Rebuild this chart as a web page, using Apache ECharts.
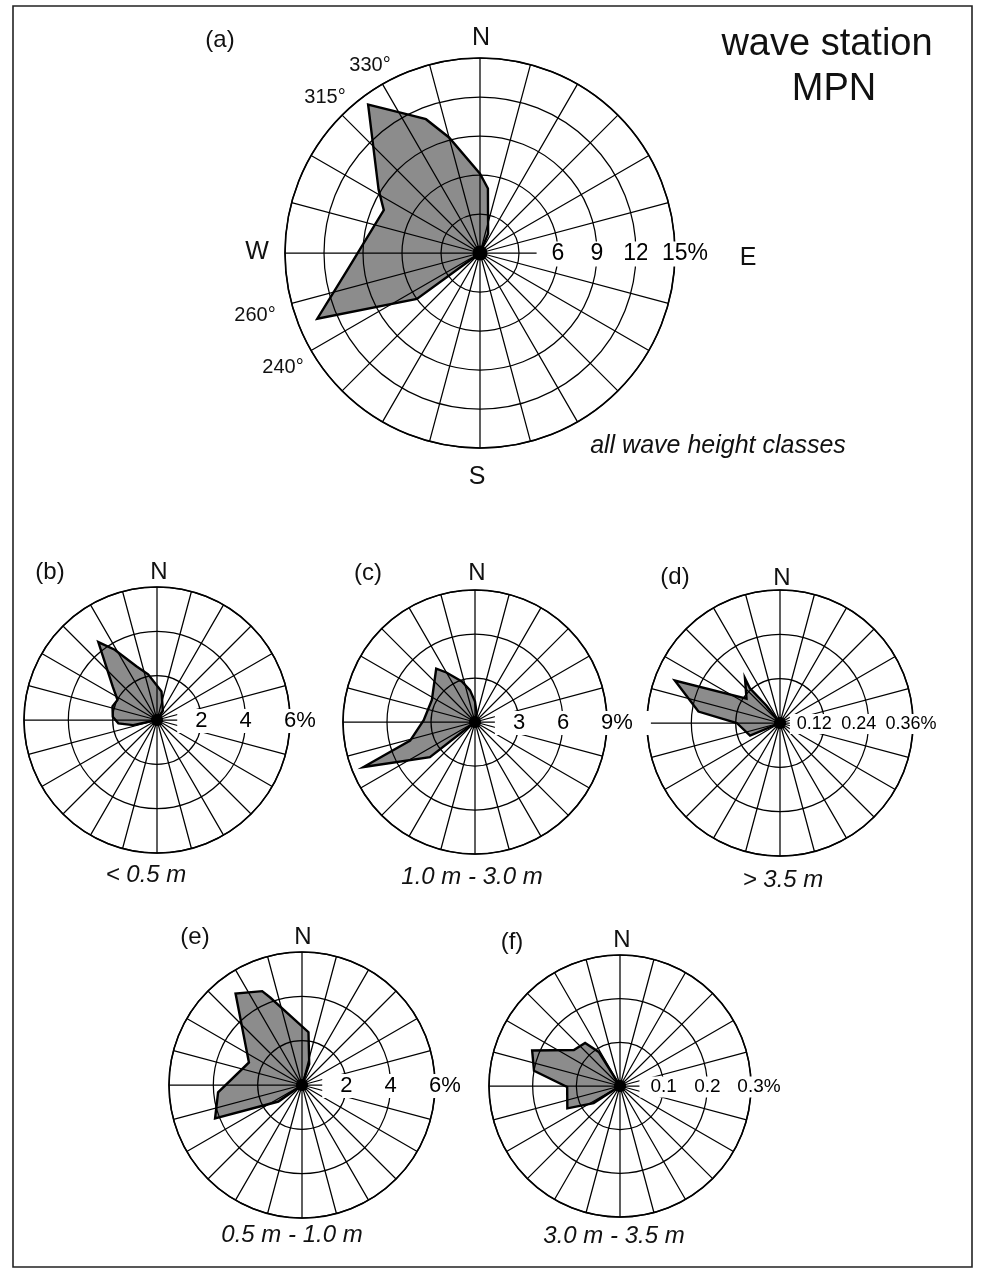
<!DOCTYPE html>
<html>
<head>
<meta charset="utf-8">
<script src="https://cdn.jsdelivr.net/npm/echarts/dist/echarts.min.js"></script>
<style>
  html, body { margin: 0; padding: 0; background: #fff; }
  #chart { width: 983px; height: 1273px; }
</style>
</head>
<body>
<div id="chart"></div>
<script>
// Wave direction roses for station MPN.
// Each rose: direction of the outline vertex (degrees from north, clockwise)
// and its frequency of occurrence (%). The outline starts and ends at the centre.

// (a) all wave height classes
const dirA  = [220, 234, 248, 264, 294, 302, 323, 331, 338, 345, 0, 7, 23, 30];
const freqA = [0, 6.0, 13.5, 10.1, 8.1, 9.2, 14.3, 12.3, 11.1, 9.2, 6.1, 5.0, 1.6, 0];
const ringsA = [6, 9, 12, 15];
const ringTextA = ['6', '9', '12', '15%'];

// (b) < 0.5 m
const dirB  = [250, 258, 265, 274, 287, 297, 307, 323, 329, 339, 349, 9, 32, 40];
const freqB = [0, 1.1, 1.75, 2.0, 2.1, 2.0, 2.5, 4.4, 3.7, 2.6, 2.1, 1.3, 0.5, 0];
const ringsB = [2, 4, 6];
const ringTextB = ['2', '4', '6%'];

// (c) 1.0 m - 3.0 m
const dirC  = [222, 232, 248, 254, 272, 297, 324, 330, 342, 351, 0, 11, 20];
const freqC = [0, 3.9, 8.2, 4.6, 3.5, 3.3, 4.5, 3.9, 2.9, 2.2, 1.4, 0.6, 0];
const ringsC = [3, 6, 9];
const ringTextC = ['3', '6', '9%'];

// (d) > 3.5 m
const dirD  = [240, 247, 270, 278, 292, 306, 322, 319, 322, 340];
const freqD = [0, 0.088, 0.117, 0.223, 0.307, 0.112, 0.154, 0.124, 0.06, 0];
const ringsD = [0.12, 0.24, 0.36];
const ringTextD = ['0.12', '0.24', '0.36%'];

// (e) 0.5 m - 1.0 m
const dirE  = [225, 235, 249, 265, 293, 324, 337, 340, 7, 19, 30];
const freqE = [0, 1.3, 4.2, 3.8, 2.6, 5.1, 4.6, 4.2, 2.4, 1.0, 0];
const ringsE = [2, 4, 6];
const ringTextE = ['2', '4', '6%'];

// (f) 3.0 m - 3.5 m
const dirF  = [228, 237, 247, 269, 280, 292, 308, 321, 328, 335];
const freqF = [0, 0.072, 0.131, 0.121, 0.200, 0.217, 0.134, 0.127, 0.092, 0];
const ringsF = [0.1, 0.2, 0.3];
const ringTextF = ['0.1', '0.2', '0.3%'];

const FONT = '"Liberation Sans", Arial, Helvetica, sans-serif';
const INK = '#000';
const FILL = '#8c8c8c';

// layout of each rose on the page
const roses = [
  { dir: dirA, freq: freqA, rings: ringsA, text: ringTextA, max: 15,   step: 3,    center: [480, 253],  radius: 195, fs: 23, dx: 0,   padX: 15, dot: 15, pct: 10 },
  { dir: dirB, freq: freqB, rings: ringsB, text: ringTextB, max: 6,    step: 2,    center: [157, 720],  radius: 133, fs: 22, dx: 0,   padX: 18, dot: 12, pct: 10 },
  { dir: dirC, freq: freqC, rings: ringsC, text: ringTextC, max: 9,    step: 3,    center: [475, 722],  radius: 132, fs: 22, dx: 0,   padX: 18, dot: 12, pct: 10 },
  { dir: dirD, freq: freqD, rings: ringsD, text: ringTextD, max: 0.36, step: 0.12, center: [780, 723],  radius: 133, fs: 18, dx: -10, padX: 7,  dot: 12, pct: 8 },
  { dir: dirE, freq: freqE, rings: ringsE, text: ringTextE, max: 6,    step: 2,    center: [302, 1085], radius: 133, fs: 22, dx: 0,   padX: 18, dot: 12, pct: 10 },
  { dir: dirF, freq: freqF, rings: ringsF, text: ringTextF, max: 0.3,  step: 0.1,  center: [620, 1086], radius: 131, fs: 19, dx: 0,   padX: 11, dot: 12, pct: 8 }
];

const polar = [], angleAxis = [], radiusAxis = [], series = [];

roses.forEach((p, i) => {
  polar.push({ center: p.center, radius: p.radius });
  angleAxis.push({
    polarIndex: i, type: 'value', min: 0, max: 360, interval: 15,
    startAngle: 90, clockwise: true, z: 3,
    axisLine: { show: true, lineStyle: { color: INK, width: 1.6 } },
    axisTick: { show: false }, axisLabel: { show: false },
    splitLine: { show: true, lineStyle: { color: INK, width: 1.25 } }
  });
  radiusAxis.push({
    polarIndex: i, type: 'value', min: 0, max: p.max, interval: p.step, z: 3,
    axisLine: { show: false }, axisTick: { show: false }, axisLabel: { show: false },
    splitLine: { show: true, lineStyle: { color: INK, width: 1.25 } }
  });

  const pts = p.dir.map((d, k) => [p.freq[k], d]);

  // shaded area, under the grid
  series.push({
    type: 'line', coordinateSystem: 'polar', polarIndex: i, data: pts,
    symbol: 'none', silent: true, z: 1,
    lineStyle: { width: 0, opacity: 0 },
    areaStyle: { color: FILL, opacity: 1 }
  });
  // outline, above the grid
  series.push({
    type: 'line', coordinateSystem: 'polar', polarIndex: i, data: pts,
    symbol: 'none', silent: true, z: 5,
    lineStyle: { color: '#000', width: 2.4, join: 'miter' }
  });
  // centre dot
  series.push({
    type: 'scatter', coordinateSystem: 'polar', polarIndex: i,
    data: [[0, 0]], symbol: 'circle', symbolSize: p.dot, silent: true, z: 6,
    itemStyle: { color: '#000', opacity: 1 }
  });
  // ring values along the east spoke
  series.push({
    type: 'scatter', coordinateSystem: 'polar', polarIndex: i, silent: true, z: 7,
    symbolSize: 0, itemStyle: { opacity: 1 },
    emphasis: { disabled: true },
    data: p.rings.map((r, k) => ({
      value: [r, 90],
      label: { offset: [p.dx + (k === p.rings.length - 1 ? p.pct : 0), 1] }
    })),
    label: {
      show: true, position: 'inside', align: 'center',
      formatter: (prm) => p.text[prm.dataIndex],
      fontSize: p.fs, fontFamily: FONT, color: '#000', opacity: 1,
      backgroundColor: '#fff', padding: [1, p.padX]
    }
  });
});

function txt(x, y, s, size, opts) {
  return {
    type: 'text', x: x, y: y, z: 20, silent: true,
    style: Object.assign({
      text: s, fontSize: size, fontFamily: FONT, fill: '#111',
      align: 'center', verticalAlign: 'middle'
    }, opts || {})
  };
}

const graphic = [
  { type: 'rect', z: 0, silent: true,
    shape: { x: 13, y: 6, width: 959, height: 1261 },
    style: { fill: 'none', stroke: '#222', lineWidth: 1.6 } },

  // (a)
  txt(220, 40, '(a)', 24),
  txt(481, 38, 'N', 25),
  txt(370, 65, '330°', 20),
  txt(325, 97, '315°', 20),
  txt(257, 252, 'W', 25),
  txt(255, 315, '260°', 20),
  txt(283, 367, '240°', 20),
  txt(748, 258, 'E', 25),
  txt(477, 477, 'S', 25),
  txt(718, 446, 'all wave height classes', 25, { fontStyle: 'italic' }),
  txt(827, 45, 'wave station', 38),
  txt(834, 90, 'MPN', 38),

  // (b)
  txt(50, 572, '(b)', 24),
  txt(159, 572, 'N', 24),
  txt(146, 875, '< 0.5 m', 24, { fontStyle: 'italic' }),
  // (c)
  txt(368, 573, '(c)', 24),
  txt(477, 573, 'N', 24),
  txt(472, 877, '1.0 m - 3.0 m', 24, { fontStyle: 'italic' }),
  // (d)
  txt(675, 577, '(d)', 24),
  txt(782, 578, 'N', 24),
  txt(783, 880, '> 3.5 m', 24, { fontStyle: 'italic' }),
  // (e)
  txt(195, 937, '(e)', 24),
  txt(303, 937, 'N', 24),
  txt(292, 1235, '0.5 m - 1.0 m', 24, { fontStyle: 'italic' }),
  // (f)
  txt(512, 942, '(f)', 24),
  txt(622, 940, 'N', 24),
  txt(614, 1236, '3.0 m - 3.5 m', 24, { fontStyle: 'italic' })
];

const chart = echarts.init(document.getElementById('chart'), null, { renderer: 'canvas' });
chart.setOption({
  animation: false,
  backgroundColor: '#fff',
  polar: polar,
  angleAxis: angleAxis,
  radiusAxis: radiusAxis,
  series: series,
  graphic: graphic
});
</script>
</body>
</html>
